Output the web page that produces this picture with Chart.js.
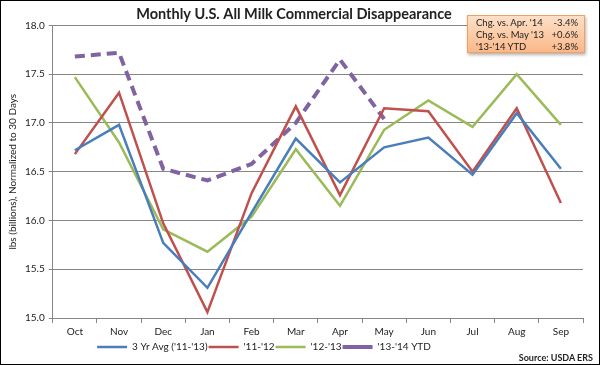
<!DOCTYPE html>
<html>
<head>
<meta charset="utf-8">
<script src="https://cdn.jsdelivr.net/npm/chart.js@4"></script>
<style>
  body { margin: 0; background: #fff; }
  #wrap { position: relative; width: 600px; height: 365px; box-sizing: border-box; border: 1px solid #000; }
  #c { display: block; }
  #note {
    position: absolute; left: 466px; top: 14px; width: 118px; height: 38px;
    box-sizing: border-box; border: 1px solid #f0a060;
    background: linear-gradient(#fde0c8, #fbb888);
    box-shadow: 1px 2px 3px rgba(0,0,0,0.3);
    font: 9.5px Lato, sans-serif; color: #222; padding: 1px 6px 0 8px; line-height: 12px;
  }
  #note div { display: flex; justify-content: space-between; }
  #src { position: absolute; right: 6px; bottom: 1px; font: bold 9px Lato, sans-serif; color: #222; }
</style>
</head>
<body>
<div id="wrap">
  <canvas id="c" width="598" height="363"></canvas>
  <div id="note">
    <div><span>Chg. vs. Apr. '14</span><span>-3.4%</span></div>
    <div><span>Chg. vs. May '13</span><span>+0.6%</span></div>
    <div><span>'13-'14 YTD</span><span>+3.8%</span></div>
  </div>
  <div id="src">Source: USDA ERS</div>
</div>
<script>
const meses = ['Oct', 'Nov', 'Dec', 'Jan', 'Feb', 'Mar', 'Apr', 'May', 'Jun', 'Jul', 'Aug', 'Sep'];
const media3Anos = [16.72, 16.98, 15.77, 15.31, 16.08, 16.84, 16.39, 16.75, 16.85, 16.47, 17.10, 16.53];
const ano1112 = [16.68, 17.31, 15.97, 15.06, 16.28, 17.17, 16.26, 17.15, 17.12, 16.50, 17.15, 16.18];
const ano1213 = [17.47, 16.80, 15.91, 15.68, 16.04, 16.73, 16.15, 16.93, 17.23, 16.96, 17.50, 16.98];
const ano1314 = [17.68, 17.72, 16.53, 16.41, 16.58, 17.00, 17.65, 17.04];

const fonte = { family: 'Lato, sans-serif', size: 10 };

function serie(label, data, cor, extra) {
    return Object.assign({
        label: label,
        data: data,
        borderColor: cor,
        backgroundColor: cor,
        borderWidth: 2.5,
        pointRadius: 0,
        tension: 0,
        fill: false
    }, extra || {});
}

// puxa a legenda um pouco para a esquerda, como no original
const legendaEsquerda = {
    id: 'legendaEsquerda',
    afterLayout(chart) {
        if (chart.legend) chart.legend.right -= 60;
    }
};

new Chart(document.getElementById('c').getContext('2d'), {
    type: 'line',
    data: {
        labels: meses,
        datasets: [
            serie("3 Yr Avg ('11-'13)", media3Anos, '#4a7ebb'),
            serie("'11-'12", ano1112, '#c0504d'),
            serie("'12-'13", ano1213, '#9bbb59'),
            serie("'13-'14 YTD", ano1314, '#8064a2', { borderWidth: 4, borderDash: [10, 6] })
        ]
    },
    plugins: [legendaEsquerda],
    options: {
        responsive: false,
        animation: false,
        layout: { padding: { left: 4, right: 16, top: 5, bottom: 2 } },
        plugins: {
            title: {
                display: true,
                text: 'Monthly U.S. All Milk Commercial Disappearance',
                font: { family: 'Lato, sans-serif', size: 14.5, weight: 'bold' },
                color: '#222',
                padding: { top: 0, bottom: 2 }
            },
            legend: {
                position: 'bottom',
                labels: {
                    font: fonte,
                    color: '#222',
                    usePointStyle: true,
                    pointStyle: 'line',
                    pointStyleWidth: 30,
                    boxWidth: 30,
                    boxHeight: 8,
                    padding: 1
                }
            },
            tooltip: { enabled: false }
        },
        scales: {
            x: {
                offset: true,
                grid: { offset: true, drawOnChartArea: false, color: '#868686', tickLength: 5 },
                border: { color: '#868686' },
                ticks: { font: fonte, color: '#222', padding: 3, maxRotation: 0 }
            },
            y: {
                min: 15, max: 18,
                ticks: { stepSize: 0.5, font: fonte, color: '#222', padding: 4, callback: v => v.toFixed(1) },
                grid: { color: '#868686', tickLength: 4 },
                border: { color: '#868686' },
                title: { display: true, text: 'lbs (billions), Normalized to 30 Days', font: fonte, color: '#222', padding: 2 }
            }
        }
    }
});
</script>
</body>
</html>
